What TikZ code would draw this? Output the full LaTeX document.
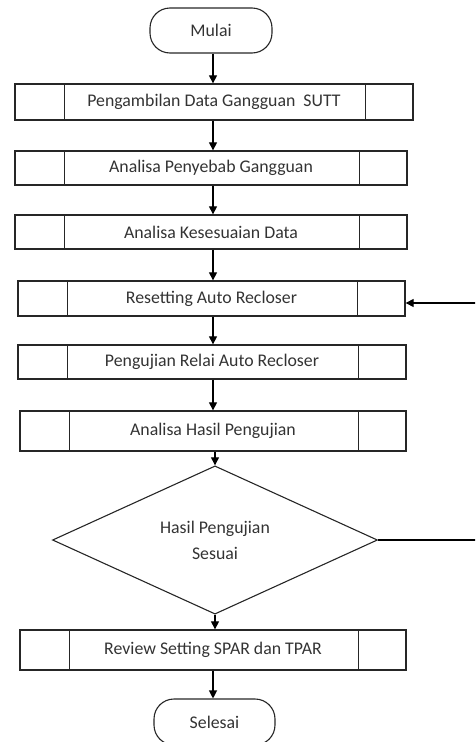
\documentclass[tikz,border=0pt]{standalone}
\usepackage{fontspec}
\setmainfont{Carlito}
\usetikzlibrary{shapes.geometric,arrows.meta}
\begin{document}
\begin{tikzpicture}[x=1pt,y=-1pt,
  every node/.style={font=\fontsize{17.8}{20}\selectfont, text=black!80},
  pbox/.style={draw=black!85, line width=1.3pt, rectangle, inner sep=0pt},
  term/.style={draw=black!85, line width=1.1pt, rectangle, rounded corners=20pt, inner sep=0pt},
  decis/.style={draw=black!85, line width=1.1pt, diamond, inner sep=0pt, align=center, font=\fontsize{17.8}{26}\selectfont},
  inl/.style={draw=black!85, line width=1.1pt},
  arr/.style={draw=black, line width=1.1pt, -{Triangle[width=8pt,length=8pt]}},
  ln/.style={draw=black, line width=1.1pt}]
\useasboundingbox (0,0) rectangle (475,742);
\clip (0,0) rectangle (475,742);

\node[term, minimum width=122pt, minimum height=45pt] (mulai) at (211,30.5) {Mulai};

\node[pbox, minimum width=398pt, minimum height=36pt] (b1) at (214,102) {Pengambilan Data Gangguan \ SUTT};
\node[pbox, minimum width=392pt, minimum height=34pt] (b2) at (211,168) {Analisa Penyebab Gangguan};
\node[pbox, minimum width=392pt, minimum height=34pt] (b3) at (211,232) {Analisa Kesesuaian Data};
\node[pbox, minimum width=387pt, minimum height=35pt] (b4) at (211.5,298.5) {Resetting Auto Recloser};
\node[pbox, minimum width=388pt, minimum height=34pt] (b5) at (212,362) {Pengujian Relai Auto Recloser};
\node[pbox, minimum width=386pt, minimum height=40pt] (b6) at (213,431) {Analisa Hasil Pengujian};
\node[decis, minimum width=325pt, minimum height=119pt] (d1) at (215,540) {Hasil Pengujian\\Sesuai};
\node[pbox, minimum width=386pt, minimum height=40pt] (b7) at (213,650) {Review Setting SPAR dan TPAR};
\node[term, minimum width=121pt, minimum height=46pt] (sel) at (214.5,722) {Selesai};

\foreach \b in {b1,b2,b3,b4,b5,b6,b7}{
  \draw[inl] ([xshift=50pt]\b.north west) -- ([xshift=50pt]\b.south west);
  \draw[inl] ([xshift=-48pt]\b.north east) -- ([xshift=-48pt]\b.south east);
}

\coordinate (ax) at (213,0);
\draw[arr] (mulai.south -| ax) -- (b1.north -| ax);
\draw[arr] (b1.south -| ax) -- (b2.north -| ax);
\draw[arr] (b2.south -| ax) -- (b3.north -| ax);
\draw[arr] (b3.south -| ax) -- (b4.north -| ax);
\draw[arr] (b4.south -| ax) -- (b5.north -| ax);
\draw[arr] (b5.south -| ax) -- (b6.north -| ax);
\draw[arr] (b6.south -| d1.north) -- (d1.north);
\draw[arr] (d1.south) -- (b7.north -| d1.south);
\draw[arr] (b7.south -| ax) -- (sel.north -| ax);

\coordinate (fbD) at (476,540);
\coordinate (fbU) at (476,303);
\draw[ln] (d1.east) -- (fbD);
\draw[arr] (fbU) -- (fbU -| b4.east);
\end{tikzpicture}
\end{document}
